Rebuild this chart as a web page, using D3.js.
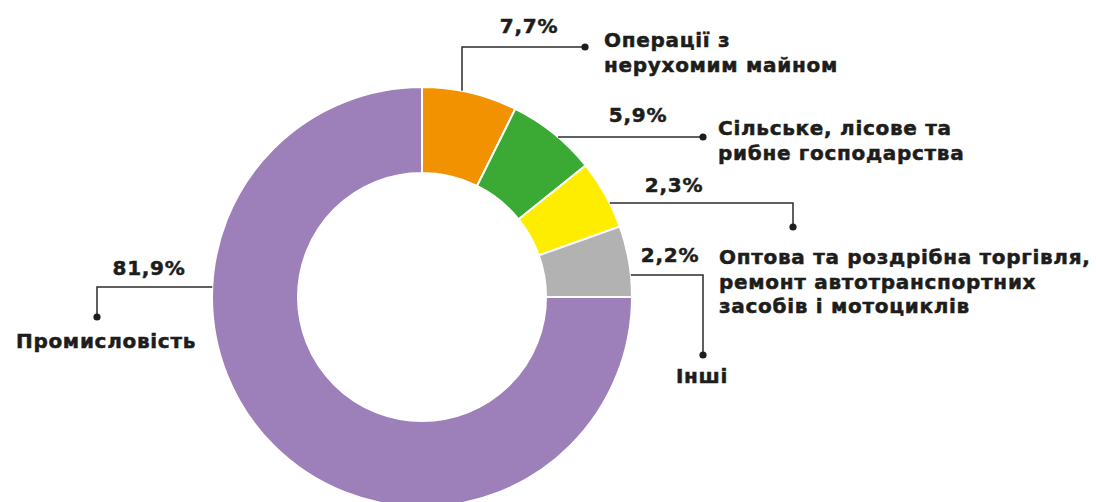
<!DOCTYPE html>
<html lang="uk">
<head>
<meta charset="utf-8">
<script src="https://cdn.jsdelivr.net/npm/d3@7"></script>
<style>
  html, body { margin: 0; padding: 0; background: #fff; }
  svg { display: block; font-family: 'DejaVu Sans', sans-serif; font-weight: bold; }
</style>
</head>
<body>
<div id="chart"></div>
<script>
// Sectors, clockwise from 12 o'clock
const categories = [
  ['Операції з', 'нерухомим майном'],
  ['Сільське, лісове та', 'рибне господарства'],
  ['Оптова та роздрібна торгівля,', 'ремонт автотранспортних', 'засобів і мотоциклів'],
  ['Інші'],
  ['Промисловість']
];
const shares = [7.7, 5.9, 2.3, 2.2, 81.9];
// the source does not draw the arcs to scale: size of each arc as drawn, % of the circle
const drawnArc = [7.33, 6.89, 5.33, 5.44, 75.0];
const colors = ['#f39200', '#3aaa35', '#ffed00', '#b2b2b2', '#9d80ba'];

// label placement (annotation layout)
const leaders = [
  { dir: 'v', at: 462, elbow: [462, 47], dot: [585, 47], pct: [529, 33], text: [604, 47], anchor: 'start' },
  { dir: 'h', at: 137, elbow: [703, 137], dot: [703, 137], pct: [638, 122], text: [718, 135], anchor: 'start' },
  { dir: 'h', at: 203, elbow: [793, 203], dot: [793, 227], pct: [674, 192], text: [719, 264], anchor: 'start' },
  { dir: 'h', at: 275, elbow: [703, 275], dot: [703, 355], pct: [670, 262], text: [702, 383], anchor: 'middle' },
  { dir: 'h', at: 287, elbow: [97, 287], dot: [97, 317], pct: [149, 275], text: [106, 348], anchor: 'middle' }
];

const width = 1096, height = 502;
const cx = 422, cy = 297, outerR = 210, innerR = 124;
const fontSize = 20, lineH = 24.5, tracking = 0.7;
const ink = '#1d1d1b';

const fmt = d3.formatLocale({ decimal: ',', thousands: ' ', grouping: [3], currency: ['', ''] }).format('.1f');

const svg = d3.select('#chart').append('svg')
  .attr('width', width)
  .attr('height', height)
  .attr('viewBox', `0 0 ${width} ${height}`);

const pie = d3.pie().sort(null).value(d => d.arc);
const arc = d3.arc().innerRadius(innerR).outerRadius(outerR);
const data = shares.map((v, i) => ({ value: v, arc: drawnArc[i], color: colors[i], lines: categories[i] }));

svg.append('g')
  .attr('transform', `translate(${cx},${cy})`)
  .selectAll('path')
  .data(pie(data))
  .join('path')
  .attr('d', arc)
  .attr('fill', d => d.data.color)
  .attr('stroke', '#fff')
  .attr('stroke-width', 2)
  .attr('stroke-linejoin', 'miter');

// leader lines start on the outer edge of the ring
const lbl = svg.append('g')
  .attr('fill', ink)
  .attr('stroke', ink)
  .attr('stroke-width', 0.5)
  .attr('letter-spacing', tracking)
  .attr('font-size', fontSize);

leaders.forEach((l, i) => {
  let start;
  if (l.dir === 'v') {
    const dx = l.at - cx;
    start = [l.at, cy - Math.sqrt(outerR * outerR - dx * dx)];
  } else {
    const dy = l.at - cy;
    const side = l.elbow[0] < cx ? -1 : 1;
    start = [cx + side * Math.sqrt(outerR * outerR - dy * dy), l.at];
  }
  svg.append('path')
    .attr('d', d3.line()([start, l.elbow, l.dot]))
    .attr('fill', 'none')
    .attr('stroke', '#2b2b2b')
    .attr('stroke-width', 1.5);
  svg.append('circle')
    .attr('cx', l.dot[0]).attr('cy', l.dot[1]).attr('r', 3.6)
    .attr('fill', ink);

  lbl.append('text')
    .attr('x', l.pct[0]).attr('y', l.pct[1])
    .attr('text-anchor', 'middle')
    .text(fmt(data[i].value) + '%');

  const t = lbl.append('text')
    .attr('x', l.text[0]).attr('y', l.text[1])
    .attr('text-anchor', l.anchor);
  data[i].lines.forEach((s, k) => {
    t.append('tspan').attr('x', l.text[0]).attr('dy', k === 0 ? 0 : lineH).text(s);
  });
});
</script>
</body>
</html>
